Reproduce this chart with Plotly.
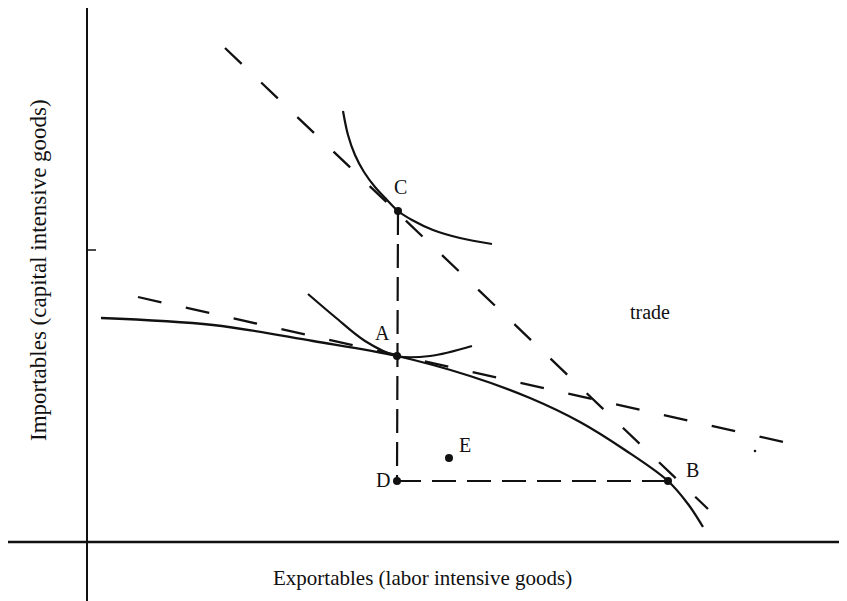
import plotly.graph_objects as go

# Schematic coordinates: origin at the axes' intersection
ppf_x = [14, 126, 226, 310, 383, 443, 493, 538, 581, 601, 616]
ppf_y = [224, 217, 201, 186, 166, 144, 120, 92, 61, 38, 15]

ic_c_x = [256, 261, 268, 277, 288, 300, 311, 325, 346, 373, 405]
ic_c_y = [431, 407, 387, 370, 355, 342, 331, 322, 312, 304, 298]

ic_a_x = [221, 248, 278, 310, 343, 385]
ic_a_y = [248, 225, 201, 186, 186, 196]

autarky_price_x = [51, 710]
autarky_price_y = [245, 97]

trade_price_x = [138, 621]
trade_price_y = [494, 33]

pt_names = ["C", "A", "D", "B", "E"]
pt_x = [311, 310, 310, 581, 362]
pt_y = [331, 186, 61, 61, 84]

cd_x = [311, 310]
cd_y = [331, 61]
db_x = [310, 581]
db_y = [61, 61]

x_axis_x = [-79, 770]
x_axis_y = [0, 0]
y_axis_x = [0, 0]
y_axis_y = [534, -70]

tick_x = [0, 9]
tick_y = [292, 292]
speck_x = [668]
speck_y = [91]

black = "#111111"
fig = go.Figure()

def line(x, y, dash="solid", width=2.2, shape="linear"):
    fig.add_trace(go.Scatter(x=x, y=y, mode="lines",
                             line=dict(color=black, width=width, dash=dash, shape=shape),
                             hoverinfo="skip", showlegend=False))

line(x_axis_x, x_axis_y, width=2.5)
line(y_axis_x, y_axis_y, width=2.0)
line(tick_x, tick_y, width=1.5)
line(ppf_x, ppf_y, width=2.3, shape="spline")
line(ic_c_x, ic_c_y, width=2.2, shape="spline")
line(ic_a_x, ic_a_y, width=2.2, shape="spline")
line(autarky_price_x, autarky_price_y, dash="24px,25px", width=2.3)
line(trade_price_x, trade_price_y, dash="23px,27px", width=2.3)
line(cd_x, cd_y, dash="24px,9px", width=2.2)
line(db_x, db_y, dash="24px,11px", width=2.2)

fig.add_trace(go.Scatter(x=pt_x, y=pt_y, mode="markers",
                         marker=dict(color=black, size=8),
                         hoverinfo="skip", showlegend=False))
fig.add_trace(go.Scatter(x=speck_x, y=speck_y, mode="markers",
                         marker=dict(color=black, size=2.5),
                         hoverinfo="skip", showlegend=False))

font = dict(family="Liberation Serif", size=20, color=black)
label_pos = {"C": (313, 355), "A": (295, 209), "D": (296, 62), "B": (605, 72), "E": (378, 97)}
for n in pt_names:
    lx, ly = label_pos[n]
    fig.add_annotation(x=lx, y=ly, text=n, showarrow=False, font=font)
fig.add_annotation(x=563, y=230, text="trade", showarrow=False, font=font)
fig.add_annotation(x=335, y=-36, text="Exportables (labor intensive goods)",
                   showarrow=False, font=dict(family="Liberation Serif", size=21, color=black))
fig.add_annotation(x=-49, y=272, text="Importables (capital intensive goods)", textangle=-90,
                   showarrow=False, font=dict(family="Liberation Serif", size=23, color=black))

# the page body adds an 8px margin; the ranges below keep 1 unit = 1 px
fig.update_layout(width=839, height=593, margin=dict(l=0, r=0, t=0, b=0),
                  paper_bgcolor="white", plot_bgcolor="white",
                  xaxis=dict(range=[-79, 760], visible=False, fixedrange=True),
                  yaxis=dict(range=[-59, 534], visible=False, fixedrange=True))
fig.write_html("out.html")
